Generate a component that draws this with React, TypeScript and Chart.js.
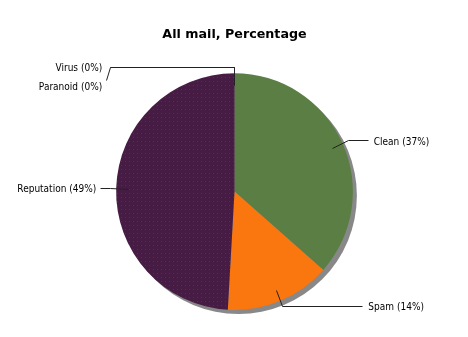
import React, { useEffect, useRef } from "react";
import { Chart, registerables } from "chart.js";

Chart.register(...registerables);

const titleText = "All mail, Percentage";
const categories = ["Clean", "Spam", "Reputation", "Virus", "Paranoid"];
const values = [36.5, 14.4, 49.1, 0, 0];
const percentLabels = ["37%", "14%", "49%", "0%", "0%"];
const sliceColors = ["#5b7e45", "#fa760f", "#471c44", "#cc2222", "#2222cc"];

const LABEL_FONT = '10px "DejaVu Sans", sans-serif';
const LABEL_SQUEEZE = 0.9;

function makeDotPattern(base: string, dot: string): CanvasPattern | string {
  const c = document.createElement("canvas");
  c.width = 4;
  c.height = 4;
  const g = c.getContext("2d");
  if (!g) return base;
  g.fillStyle = base;
  g.fillRect(0, 0, 4, 4);
  g.fillStyle = dot;
  g.fillRect(1, 1, 1, 1);
  const p = g.createPattern(c, "repeat");
  return p || base;
}

const shadowPlugin = {
  id: "pieShadow",
  beforeDatasetsDraw(chart: any) {
    const meta = chart.getDatasetMeta(0);
    if (!meta || !meta.data.length) return;
    const arc: any = meta.data[0];
    const { x, y, outerRadius } = arc.getProps(["x", "y", "outerRadius"], true);
    const ctx = chart.ctx;
    ctx.save();
    ctx.fillStyle = "#888888";
    ctx.beginPath();
    ctx.arc(x + 4, y + 4, outerRadius, 0, Math.PI * 2);
    ctx.fill();
    ctx.restore();
  },
};

const labelPlugin = {
  id: "pieLabels",
  afterDatasetsDraw(chart: any) {
    const meta = chart.getDatasetMeta(0);
    const ctx = chart.ctx;
    ctx.save();
    ctx.font = LABEL_FONT;
    ctx.strokeStyle = "#222222";
    ctx.fillStyle = "#000000";
    ctx.lineWidth = 1;
    ctx.textBaseline = "middle";
    const items: any[] = [];
    meta.data.forEach((el: any, i: number) => {
      const p = el.getProps(["x", "y", "startAngle", "endAngle", "outerRadius"], true);
      const mid = (p.startAngle + p.endAngle) / 2;
      const R = p.outerRadius;
      const cos = Math.cos(mid);
      const sin = Math.sin(mid);
      const inner = { x: p.x + 0.9 * R * cos, y: p.y + 0.9 * R * sin };
      const elbow = { x: p.x + 1.05 * R * cos, y: p.y + 1.05 * R * sin };
      const right = cos > 1e-6;
      const endX = right
        ? Math.max(elbow.x + 20, p.x + 1.08 * R)
        : Math.min(elbow.x - 10, p.x - 1.05 * R);
      let labelY = elbow.y;
      let group = false;
      for (const it of items) {
        if (it.right === right && Math.abs(labelY - it.labelY) < 18) {
          labelY = it.labelY + 18.5;
          it.group = true;
          group = true;
        }
      }
      items.push({ i, inner, elbow, right, endX, labelY, group });
    });
    for (const it of items) {
      const { inner, elbow, right, endX, labelY, group, i } = it;
      ctx.beginPath();
      ctx.moveTo(Math.round(inner.x) + 0.5, Math.round(inner.y) + 0.5);
      ctx.lineTo(Math.round(elbow.x) + 0.5, Math.round(elbow.y) + 0.5);
      ctx.lineTo(Math.round(endX) + 0.5, Math.round(elbow.y) + 0.5);
      const shift = group ? 4 : 0;
      if (labelY !== elbow.y) {
        const dx = right ? 4 : -4;
        ctx.lineTo(Math.round(endX + dx) + 0.5, Math.round(labelY - 6) + 0.5);
      }
      ctx.stroke();
      const textX = right ? endX + 6 + shift : endX - 4 - shift;
      const text = `${categories[i]} (${percentLabels[i]})`;
      ctx.save();
      ctx.translate(textX, labelY + 1.5);
      ctx.scale(LABEL_SQUEEZE, 1);
      ctx.textAlign = right ? "left" : "right";
      ctx.fillText(text, 0, 0);
      ctx.restore();
    }
    ctx.restore();
  },
};

export default function App() {
  const ref = useRef<HTMLCanvasElement | null>(null);
  useEffect(() => {
    document.body.style.margin = "0";
    document.body.style.background = "#ffffff";
    const canvas = ref.current;
    if (!canvas) return;
    const bg = sliceColors.map((c, i) =>
      i === 2 ? makeDotPattern(c, "#5a2c55") : c
    );
    const chart = new Chart(canvas, {
      type: "pie",
      data: {
        labels: categories,
        datasets: [
          {
            data: values,
            backgroundColor: bg as any,
            borderWidth: 0,
          },
        ],
      },
      options: {
        responsive: false,
        animation: false,
        layout: { padding: { top: 0, bottom: 27, left: 1, right: 0 } },
        plugins: {
          legend: { display: false },
          tooltip: { enabled: false },
          title: {
            display: true,
            text: titleText,
            color: "#000000",
            font: { family: "DejaVu Sans", size: 12.7, weight: "bold" },
            padding: { top: 27, bottom: 31 },
          },
        },
      },
      plugins: [shadowPlugin, labelPlugin],
    });
    return () => chart.destroy();
  }, []);
  return (
    <canvas
      ref={ref}
      width={468}
      height={337}
      style={{ display: "block", width: 468, height: 337 }}
    />
  );
}
